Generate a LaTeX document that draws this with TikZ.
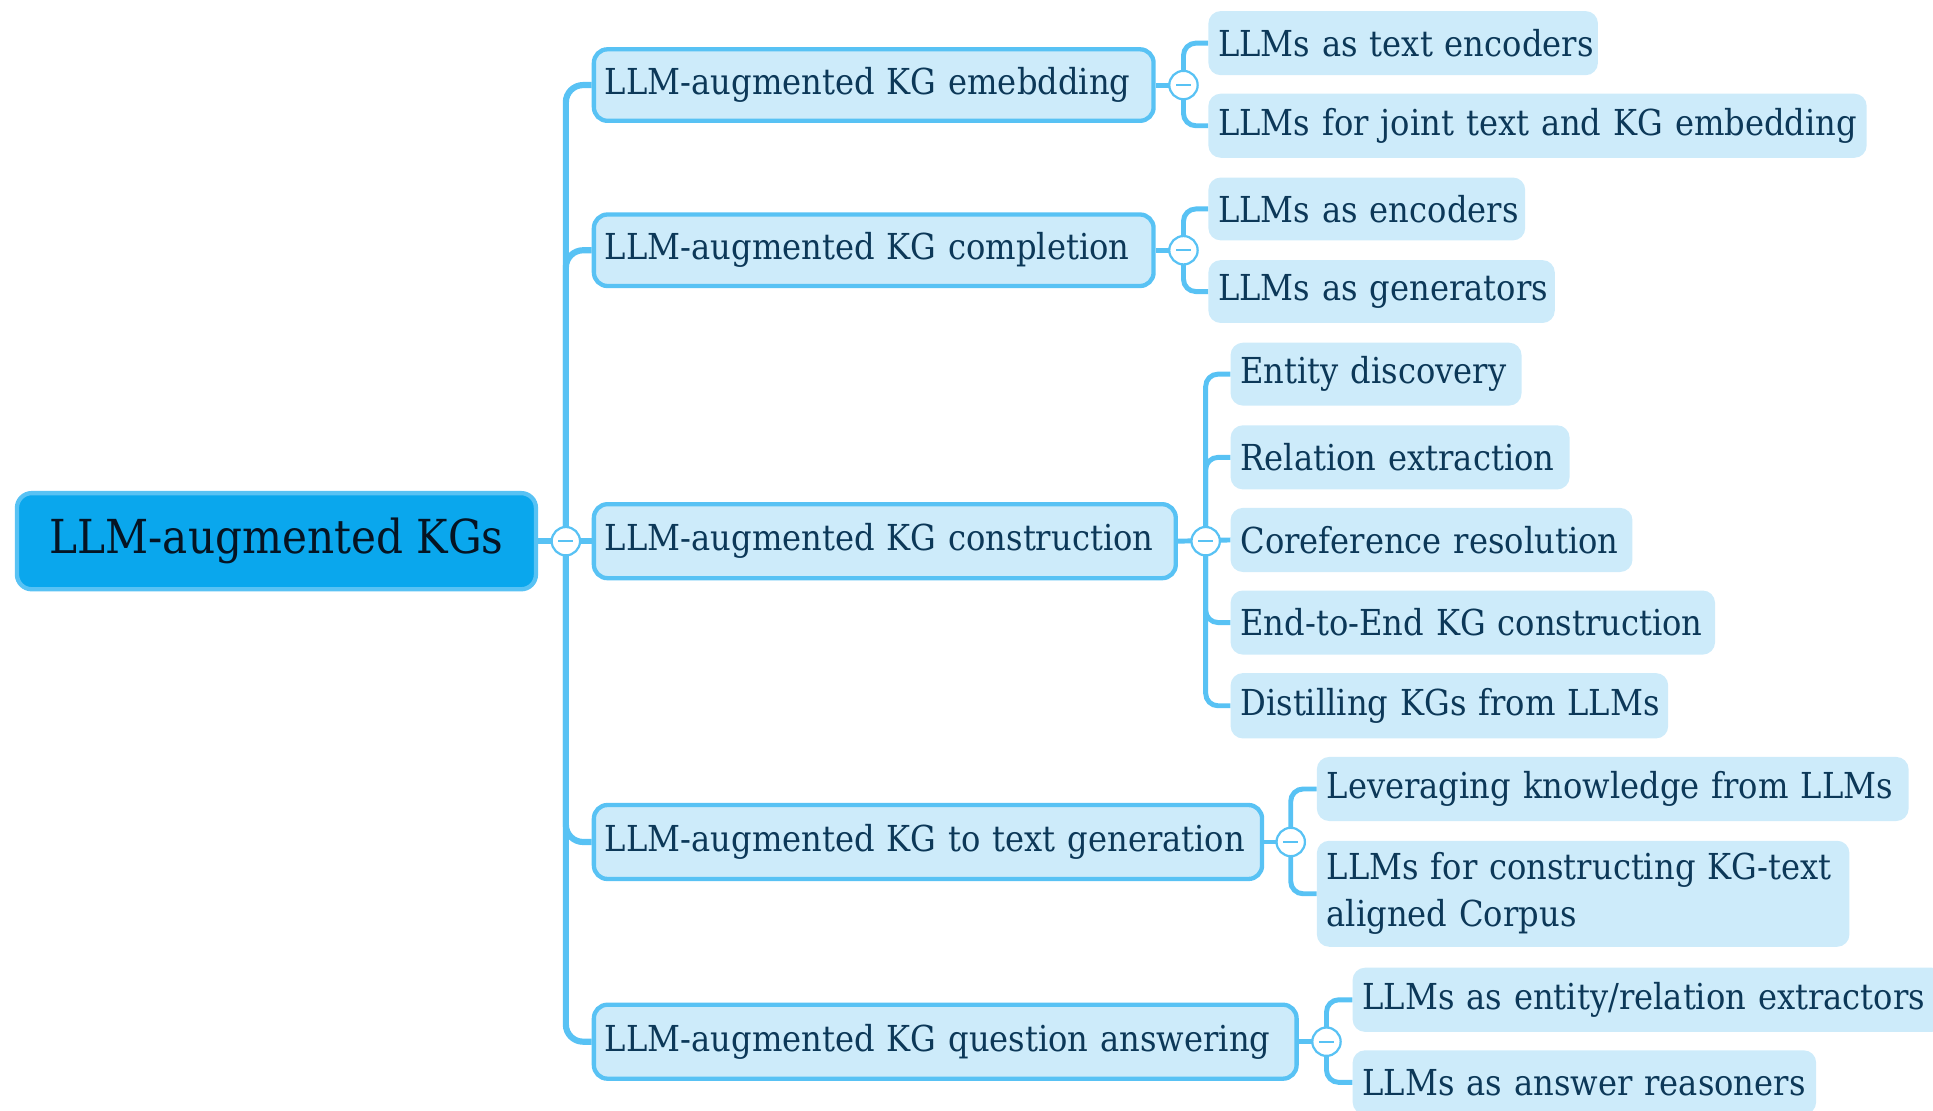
\documentclass[tikz,border=0pt]{standalone}
\usepackage{fontspec}
\setmainfont{DejaVu Serif}[FakeStretch=0.9]
\definecolor{lineblue}{RGB}{88,194,244}
\definecolor{rootfill}{RGB}{10,167,237}
\definecolor{lfill}{RGB}{205,235,250}
\definecolor{navy}{RGB}{12,56,88}
\definecolor{rootink}{RGB}{5,20,35}
\tikzset{
  trunk/.style={draw=lineblue, line width=5pt, rounded corners=14pt},
  conn/.style={draw=lineblue, line width=4pt, rounded corners=10pt},
  rootbox/.style={draw=lineblue, line width=3.5pt, fill=rootfill, rounded corners=12pt, text=rootink,
    font=\fontsize{38}{44}\selectfont, align=center, inner sep=0pt, anchor=west},
  lonebox/.style={draw=lineblue, line width=3.5pt, fill=lfill, rounded corners=11pt, text=navy,
    font=\fontsize{29}{36}\selectfont, align=left, inner xsep=9pt, inner ysep=0pt, anchor=west},
  ltwobox/.style={fill=lfill, rounded corners=10pt, text=navy,
    font=\fontsize{29}{38}\selectfont, align=left, inner xsep=8pt, inner ysep=0pt, anchor=west},
  tog/.style={circle, draw=lineblue, fill=white, line width=1.8pt, minimum size=23pt, inner sep=0pt,
    path picture={\draw[lineblue, line width=1.6pt]
      ([xshift=-6pt]path picture bounding box.center) -- ([xshift=6pt]path picture bounding box.center);}},
}
\begin{document}
\begin{tikzpicture}[x=1pt,y=-1pt]
\useasboundingbox (0,0) rectangle (1568,901);
\clip (0,0) rectangle (1568,901);
% root
\node[rootbox, minimum width=421pt, minimum height=78pt] (root) at (12,439) {LLM-augmented KGs};
% level 1
\node[lonebox, text width=436pt, minimum height=58pt] (emb) at (480,69) {\mbox{LLM-augmented KG emebdding}};
\node[lonebox, text width=436pt, minimum height=58pt] (comp) at (480,203) {\mbox{LLM-augmented KG completion}};
\node[lonebox, text width=454pt, minimum height=60pt] (cons) at (480,439) {\mbox{LLM-augmented KG construction}};
\node[lonebox, text width=524pt, minimum height=60pt] (tg) at (480,683) {\mbox{LLM-augmented KG to text generation}};
\node[lonebox, text width=552pt, minimum height=60pt] (qa) at (480,845) {\mbox{LLM-augmented KG question answering}};
% level 2
\node[ltwobox, text width=300pt, minimum height=52pt] (te) at (980,35) {\mbox{LLMs as text encoders}};
\node[ltwobox, text width=518pt, minimum height=52pt] (jt) at (980,102) {\mbox{LLMs for joint text and KG embedding}};
\node[ltwobox, text width=241pt, minimum height=51pt] (enc) at (980,169.5) {\mbox{LLMs as encoders}};
\node[ltwobox, text width=265pt, minimum height=51pt] (gen) at (980,236.5) {\mbox{LLMs as generators}};
\node[ltwobox, text width=220pt, minimum height=51pt] (ed) at (998,303.5) {\mbox{Entity discovery}};
\node[ltwobox, text width=259pt, minimum height=52pt] (re) at (998,371) {\mbox{Relation extraction}};
\node[ltwobox, text width=310pt, minimum height=52pt] (cr) at (998,438) {\mbox{Coreference resolution}};
\node[ltwobox, text width=377pt, minimum height=52pt] (ee) at (998,505) {\mbox{End-to-End KG construction}};
\node[ltwobox, text width=339pt, minimum height=53pt] (di) at (998,572.5) {\mbox{Distilling KGs from LLMs}};
\node[ltwobox, text width=464pt, minimum height=52pt] (lv) at (1068,640) {\mbox{Leveraging knowledge from LLMs}};
\node[ltwobox, text width=416pt, minimum height=86pt] (kt) at (1068,725) {\mbox{LLMs for constructing KG-text}\\\mbox{aligned Corpus}};
\node[ltwobox, text width=464pt, minimum height=52pt] (er) at (1097,811) {\mbox{LLMs as entity/relation extractors}};
\node[ltwobox, text width=360pt, minimum height=52pt] (ar) at (1097,878) {\mbox{LLMs as answer reasoners}};
% toggle points
\coordinate (k0) at (459,439);
\coordinate (k1) at (960,69);
\coordinate (k2) at (960,203);
\coordinate (k3) at (978,439);
\coordinate (k4) at (1047,683);
\coordinate (k5) at (1076,845);
% trunk
\draw[trunk] (emb.west) -| (k0) |- (qa.west);
\draw[trunk] (k0) |- (comp.west);
\draw[trunk] (k0) |- (tg.west);
\draw[trunk] (root.east) -- (cons.west);
% branches
\draw[conn] (emb.east) -- (k1);
\draw[conn] (k1) |- (te.west);
\draw[conn] (k1) |- (jt.west);
\draw[conn] (comp.east) -- (k2);
\draw[conn] (k2) |- (enc.west);
\draw[conn] (k2) |- (gen.west);
\draw[conn] (cons.east) -- (cr.west);
\draw[conn] (k3) |- (ed.west);
\draw[conn] (k3) |- (re.west);
\draw[conn] (k3) |- (ee.west);
\draw[conn] (k3) |- (di.west);
\draw[conn] (tg.east) -- (k4);
\draw[conn] (k4) |- (lv.west);
\draw[conn] (k4) |- (kt.west);
\draw[conn] (qa.east) -- (k5);
\draw[conn] (k5) |- (er.west);
\draw[conn] (k5) |- (ar.west);
% toggles
\node[tog] (t0) at (k0) {};
\node[tog] (t1) at (k1) {};
\node[tog] (t2) at (k2) {};
\node[tog] (t3) at (k3) {};
\node[tog] (t4) at (k4) {};
\node[tog] (t5) at (k5) {};
\end{tikzpicture}
\end{document}
